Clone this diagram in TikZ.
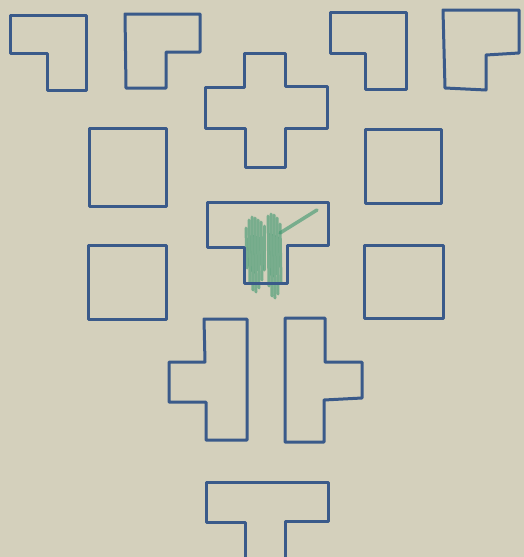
\documentclass[tikz,border=0pt]{standalone}
\definecolor{paper}{RGB}{212,208,188}
\definecolor{ink}{RGB}{58,90,138}
\definecolor{crayon}{RGB}{60,150,110}
\begin{document}
\begin{tikzpicture}[x=1pt,y=-1pt,
  ink/.style={draw=ink,line width=3pt,line join=round,line cap=round},
  shade/.style={draw=crayon,line width=3pt,line cap=round,opacity=0.6}]
\fill[paper] (0,0) rectangle (524,557);
\useasboundingbox (0,0) rectangle (524,557);
% green shading in the T
\draw[shade] (246,228)--(247,268);
\draw[shade] (249,220)--(250,282);
\draw[shade] (252,217)--(253,290);
\draw[shade] (255,218)--(256,292);
\draw[shade] (258,220)--(259,288);
\draw[shade] (261,222)--(262,280);
\draw[shade] (264,226)--(264,270);
\draw[shade] (268,216)--(269,286);
\draw[shade] (271,214)--(272,296);
\draw[shade] (274,215)--(275,298);
\draw[shade] (277,218)--(278,294);
\draw[shade] (280,224)--(281,282);
\draw[shade,line width=3.5pt] (280,233)--(317,210);
% top row
\draw[ink] (10,15)--(86,15)--(86,90)--(47,90)--(47,53)--(10,53)--cycle;
\draw[ink] (125,14)--(200,14)--(200,52)--(166,52)--(166,88)--(126,88)--cycle;
\draw[ink] (330,12)--(406,12)--(406,89)--(365,89)--(365,53)--(330,53)--cycle;
\draw[ink] (443,10)--(519,10)--(519,53)--(486,55)--(486,90)--(445,88)--cycle;
% plus
\draw[ink] (244,53)--(285,53)--(285,86)--(327,86)--(327,128)--(285,128)--(285,167)--(245,167)--(245,128)--(205,128)--(205,87)--(244,87)--cycle;
% squares
\draw[ink] (89,128) rectangle (166,206);
\draw[ink] (365,129) rectangle (441,203);
\draw[ink] (88,245) rectangle (166,319);
\draw[ink] (364,245) rectangle (443,318);
% middle T
\draw[ink] (207,202)--(328,202)--(328,245)--(287,245)--(287,283)--(244,283)--(244,247)--(207,247)--cycle;
% half crosses
\draw[ink] (204,319)--(247,319)--(247,440)--(206,440)--(206,402)--(169,402)--(169,362)--(205,362)--cycle;
\draw[ink] (285,318)--(325,318)--(325,362)--(362,362)--(362,398)--(324,400)--(324,442)--(285,442)--cycle;
% bottom T
\draw[ink] (245,560)--(245,522)--(206,522)--(206,482)--(328,482)--(328,521)--(285,521)--(285,560);
\end{tikzpicture}
\end{document}
